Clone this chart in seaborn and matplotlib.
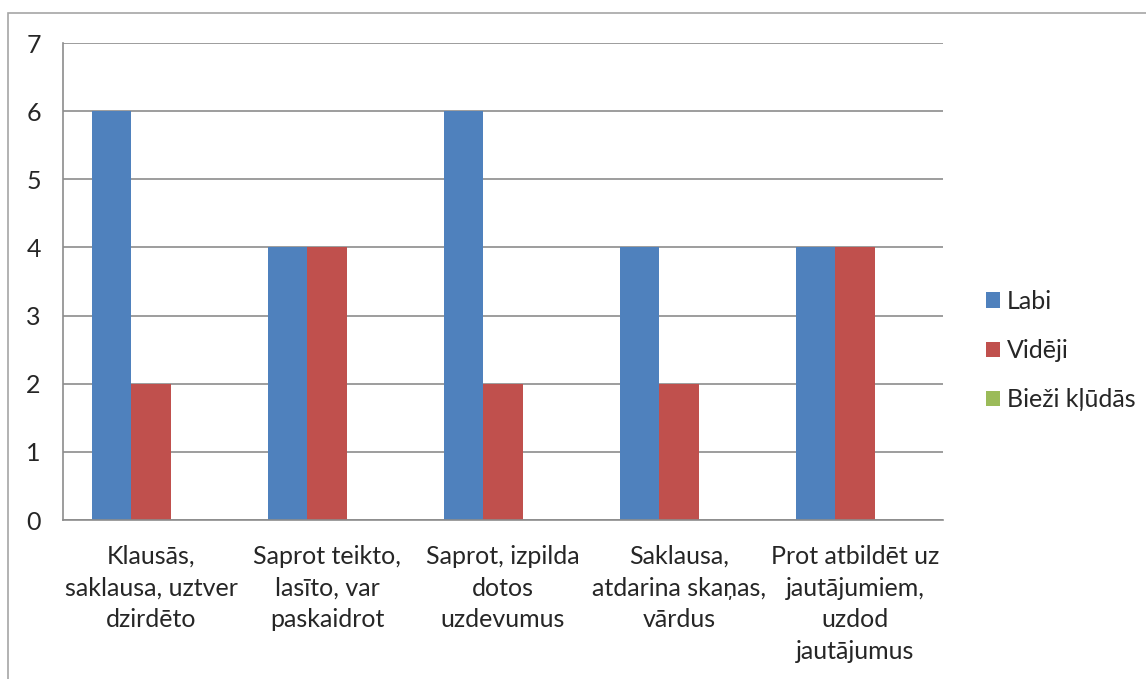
import pandas as pd
import numpy as np
import matplotlib
matplotlib.use('Agg')
import matplotlib.pyplot as plt
import seaborn as sns
from matplotlib.patches import Rectangle

# ---- data ----
categories = [
    'Klausās,\nsaklausa, uztver\ndzirdēto',
    'Saprot teikto,\nlasīto, var\npaskaidrot',
    'Saprot, izpilda\ndotos\nuzdevumus',
    'Saklausa,\natdarina skaņas,\nvārdus',
    'Prot atbildēt uz\njautājumiem,\nuzdod\njautājumus',
]
series_names = ['Labi', 'Vidēji', 'Bieži kļūdās']
labi = [6, 4, 6, 4, 4]
videji = [2, 4, 2, 2, 4]
biezi = [0, 0, 0, 0, 0]
colors = ['#4F81BD', '#C0504D', '#9BBB59']

rows = []
for name, vals in zip(series_names, [labi, videji, biezi]):
    for cat, v in zip(categories, vals):
        rows.append({'kat': cat, 'val': v, 'series': name})
df = pd.DataFrame(rows)

sns.set_style('white')
plt.rcParams['font.family'] = ['Lato', 'DejaVu Sans']

fig = plt.figure(figsize=(11.46, 6.79), dpi=100)
ax = fig.add_axes([63 / 1146, 1 - 520 / 679, (943 - 63) / 1146, (520 - 43) / 679])

sns.barplot(data=df, x='kat', y='val', hue='series', hue_order=series_names,
            palette=colors, saturation=1, width=0.665, ax=ax,
            edgecolor='none', linewidth=0, errorbar=None)

grid_c = '#8c8c8c'
ax.set_ylim(0, 7)
ax.set_xlim(-0.5, len(categories) - 0.5)
ax.set_yticks(range(0, 8))
ax.yaxis.grid(True, color=grid_c, linewidth=1.2)
ax.set_axisbelow(True)
for s in ['top', 'right']:
    ax.spines[s].set_visible(False)
for s in ['left', 'bottom']:
    ax.spines[s].set_color(grid_c)
    ax.spines[s].set_linewidth(1.2)

ax.set_xlabel('')
ax.set_ylabel('')
ax.tick_params(axis='y', length=8, width=1.2, color=grid_c, labelsize=18, pad=8)
ax.set_xticks(np.arange(-0.5, len(categories)), minor=True)
ax.tick_params(axis='x', which='minor', length=8, width=1.2, color=grid_c)
ax.tick_params(axis='x', which='major', length=0, labelsize=18, pad=18)
for lbl in ax.get_xticklabels():
    lbl.set_linespacing(1.45)
    lbl.set_verticalalignment('top')

ax.legend(loc='center left', bbox_to_anchor=(1.023, 0.355), frameon=False,
          fontsize=18, handlelength=0.58, handleheight=0.58, handletextpad=0.28,
          labelspacing=1.05)

# outer chart border (top and left edges visible)
fig.patches.append(Rectangle((8 / 1146, -0.1), 1.2, 1 - 13 / 679 + 0.1,
                             transform=fig.transFigure, fill=False,
                             edgecolor='#a6a6a6', linewidth=1.2, clip_on=False))

fig.savefig('out.png', dpi=100)
